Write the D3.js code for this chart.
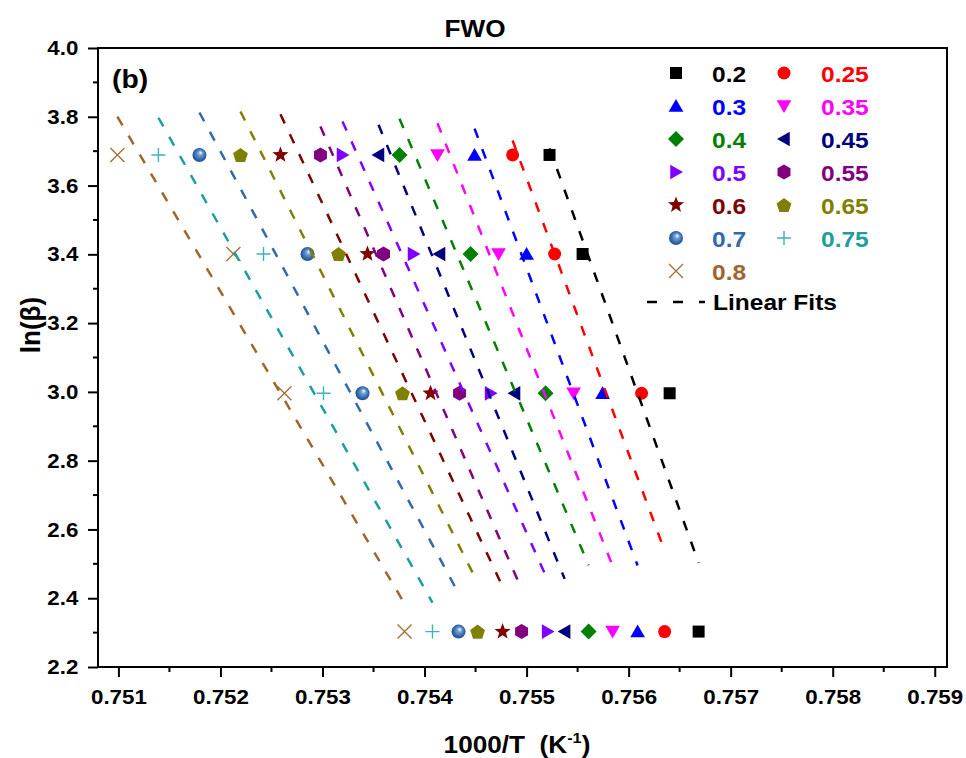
<!DOCTYPE html>
<html>
<head>
<meta charset="utf-8">
<script src="https://cdn.jsdelivr.net/npm/d3@7"></script>
<style>
  html, body { margin: 0; padding: 0; background: #fff; }
  svg { display: block; font-family: "Liberation Sans", Arial, sans-serif; font-weight: bold; }
</style>
</head>
<body>
<svg id="chart" width="966" height="758"></svg>
<script>
// Conversion degrees (alpha) shown in the legend
const conversions = ["0.2", "0.25", "0.3", "0.35", "0.4", "0.45", "0.5", "0.55", "0.6", "0.65", "0.7", "0.75", "0.8"];

// ln(heating rate) for beta = 40, 30, 20, 10 K/min
const lnBeta = [3.689, 3.401, 2.996, 2.303];

// 1000/T (K^-1) for each conversion, one array per heating rate
const invT_beta40 = [0.755225, 0.754863, 0.754490, 0.754127, 0.753755, 0.753549, 0.753196, 0.752980, 0.752588, 0.752196, 0.751794, 0.751392, 0.750990];
const invT_beta30 = [0.755549, 0.755275, 0.755000, 0.754725, 0.754451, 0.754147, 0.753892, 0.753598, 0.753441, 0.753157, 0.752853, 0.752422, 0.752127];
const invT_beta20 = [0.756402, 0.756127, 0.755745, 0.755461, 0.755186, 0.754882, 0.754647, 0.754343, 0.754059, 0.753784, 0.753392, 0.753010, 0.752627];
const invT_beta10 = [0.756686, 0.756353, 0.756088, 0.755843, 0.755608, 0.755373, 0.755206, 0.754951, 0.754765, 0.754520, 0.754333, 0.754078, 0.753804];

// Axis ticks
const xTicks = [0.751, 0.752, 0.753, 0.754, 0.755, 0.756, 0.757, 0.758, 0.759];
const yTicks = [2.2, 2.4, 2.6, 2.8, 3.0, 3.2, 3.4, 3.6, 3.8, 4.0];

// Series styling
const seriesColors = ["#000000", "#FF0000", "#0000FF", "#FF00FF", "#008000", "#000080", "#8000FF", "#800080", "#800000", "#808000", "#2F6AAE", "#1E9E9E", "#A0652A"];
const markerColors = ["#000000", "#FF0000", "#0000FF", "#FF00FF", "#008000", "#000080", "#8000FF", "#800080", "#800000", "#808000", "#2F6AAE", "#3DB3B3", "#A8703A"];
const seriesShapes = ["square", "circle", "triUp", "triDown", "diamond", "triLeft", "triRight", "hexagon", "star", "pentagon", "sphere", "plus", "cross"];

// Slight horizontal widening of all lettering
const SX = 1.09;

const svg = d3.select("#chart");
const W = 966, H = 758;
const margin = { left: 98, right: 19, top: 48, bottom: 91 };
const plotW = W - margin.left - margin.right;
const plotH = H - margin.top - margin.bottom;

const x = d3.scaleLinear().domain([0.7508, 0.75912]).range([margin.left, margin.left + plotW]);
const y = d3.scaleLinear().domain([2.2, 4.0]).range([margin.top + plotH, margin.top]);

// Sphere gradient
const defs = svg.append("defs");
const grad = defs.append("radialGradient").attr("id", "sphereGrad")
  .attr("cx", "50%").attr("cy", "50%").attr("r", "55%").attr("fx", "60%").attr("fy", "32%");
grad.append("stop").attr("offset", "0%").attr("stop-color", "#ffffff");
grad.append("stop").attr("offset", "30%").attr("stop-color", "#6f9fd6");
grad.append("stop").attr("offset", "75%").attr("stop-color", "#2c61a3");
grad.append("stop").attr("offset", "100%").attr("stop-color", "#1b4a85");

function polygon(n, r, rot) {
  const pts = [];
  for (let i = 0; i < n; i++) {
    const a = rot + i * 2 * Math.PI / n;
    pts.push([r * Math.cos(a), r * Math.sin(a)]);
  }
  return "M" + pts.map(p => p.join(",")).join("L") + "Z";
}
function starPath(ro, ri) {
  const pts = [];
  for (let i = 0; i < 10; i++) {
    const r = i % 2 === 0 ? ro : ri;
    const a = -Math.PI / 2 + i * Math.PI / 5;
    pts.push([r * Math.cos(a), r * Math.sin(a)]);
  }
  return "M" + pts.map(p => p.join(",")).join("L") + "Z";
}

function drawMarker(g, shape, color, cx, cy) {
  const m = g.append("g").attr("transform", `translate(${cx},${cy})`);
  switch (shape) {
    case "square":
      m.append("rect").attr("x", -6).attr("y", -6).attr("width", 12).attr("height", 12).attr("fill", color);
      break;
    case "circle":
      m.append("circle").attr("r", 6.5).attr("fill", color);
      break;
    case "triUp":
      m.append("path").attr("d", polygon(3, 8.5, -Math.PI / 2)).attr("transform", "translate(0,1.5)").attr("fill", color);
      break;
    case "triDown":
      m.append("path").attr("d", polygon(3, 8.5, Math.PI / 2)).attr("transform", "translate(0,-1.5)").attr("fill", color);
      break;
    case "triLeft":
      m.append("path").attr("d", polygon(3, 8.5, Math.PI)).attr("transform", "translate(1.5,0)").attr("fill", color);
      break;
    case "triRight":
      m.append("path").attr("d", polygon(3, 8.5, 0)).attr("transform", "translate(-1.5,0)").attr("fill", color);
      break;
    case "diamond":
      m.append("path").attr("d", polygon(4, 8, 0)).attr("fill", color);
      break;
    case "hexagon":
      m.append("path").attr("d", polygon(6, 7.5, -Math.PI / 2)).attr("fill", color);
      break;
    case "star":
      m.append("path").attr("d", starPath(8.5, 3.6)).attr("fill", color);
      break;
    case "pentagon":
      m.append("path").attr("d", polygon(5, 7.8, -Math.PI / 2)).attr("transform", "translate(0,0.8)").attr("fill", color);
      break;
    case "sphere":
      m.append("circle").attr("r", 7).attr("fill", "url(#sphereGrad)");
      break;
    case "plus":
      m.append("path").attr("d", "M-7,0L7,0M0,-7L0,7").attr("stroke", color).attr("stroke-width", 1.4).attr("fill", "none");
      break;
    case "cross":
      m.append("path").attr("d", "M-7,-7L7,7M-7,7L7,-7").attr("stroke", color).attr("stroke-width", 1.4).attr("fill", "none");
      break;
  }
}

// Text placed at (tx, ty) with the common horizontal widening
function label(parent, tx, ty, size, anchor, extra) {
  const g = parent.append("g").attr("transform", `translate(${tx},${ty}) scale(${SX},1)${extra || ""}`);
  return g.append("text").attr("font-size", size).attr("text-anchor", anchor || "start");
}

// Title and panel tag
label(svg, 475, 37, 24, "middle").text("FWO");
label(svg, 112, 88, 26, "start").text("(b)");

// Axes
const xAxis = d3.axisBottom(x).tickValues(xTicks).tickFormat(d3.format(".3f")).tickSize(10).tickPadding(12);
const yAxis = d3.axisLeft(y).tickValues(yTicks).tickFormat(d3.format(".1f")).tickSize(10).tickPadding(8);

const gx = svg.append("g").attr("transform", `translate(0,${margin.top + plotH})`).call(xAxis);
const gy = svg.append("g").attr("transform", `translate(${margin.left},0)`).call(yAxis);
[gx, gy].forEach(g => {
  g.select(".domain").remove();
  g.selectAll(".tick line").attr("stroke", "#000").attr("stroke-width", 2);
  g.selectAll(".tick text").attr("fill", "#000").attr("font-size", 20.5)
    .attr("font-family", "'Liberation Sans', Arial, sans-serif").attr("font-weight", "bold")
    .attr("transform", `scale(${SX},1)`);
});

// Minor ticks
const xMinor = xTicks.slice(0, -1).map(v => v + 0.0005);
svg.append("g").selectAll("line").data(xMinor).join("line")
  .attr("x1", d => x(d)).attr("x2", d => x(d))
  .attr("y1", margin.top + plotH).attr("y2", margin.top + plotH + 5)
  .attr("stroke", "#000").attr("stroke-width", 2);
const yMinor = yTicks.slice(0, -1).map(v => v + 0.1);
svg.append("g").selectAll("line").data(yMinor).join("line")
  .attr("y1", d => y(d)).attr("y2", d => y(d))
  .attr("x1", margin.left).attr("x2", margin.left - 5)
  .attr("stroke", "#000").attr("stroke-width", 2);

// Frame
svg.append("rect").attr("x", margin.left).attr("y", margin.top)
  .attr("width", plotW).attr("height", plotH)
  .attr("fill", "none").attr("stroke", "#000").attr("stroke-width", 2);

// Axis titles
label(svg, 40, 325, 26, "middle", " rotate(-90)").text("ln(β)");
const xt = label(svg, 517, 753, 24, "middle");
xt.append("tspan").text("1000/T\u00a0\u00a0(K");
xt.append("tspan").attr("font-size", 15).attr("dy", -10).text("-1");
xt.append("tspan").attr("dy", 10).text(")");

// Series data, grouped by conversion
const byRate = [invT_beta40, invT_beta30, invT_beta20, invT_beta10];
const series = conversions.map((c, i) => ({
  label: c,
  color: seriesColors[i],
  markerColor: markerColors[i],
  shape: seriesShapes[i],
  points: byRate.map((arr, k) => ({ x: arr[i], y: lnBeta[k] }))
}));

// Markers
const gMarks = svg.append("g");
series.forEach(s => {
  s.points.forEach(p => drawMarker(gMarks, s.shape, s.markerColor, x(p.x), y(p.y)));
});

// Least-squares linear fits, drawn over each series' x range
const gFits = svg.append("g");
series.forEach(s => {
  const xs = s.points.map(p => p.x), ys = s.points.map(p => p.y);
  const mx = d3.mean(xs), my = d3.mean(ys);
  const sxy = d3.sum(xs.map((v, i) => (v - mx) * (ys[i] - my)));
  const sxx = d3.sum(xs.map(v => (v - mx) * (v - mx)));
  const b = sxy / sxx, a = my - b * mx;
  const [x0, x1] = d3.extent(xs);
  gFits.append("line")
    .attr("x1", x(x0)).attr("y1", y(a + b * x0))
    .attr("x2", x(x1)).attr("y2", y(a + b * x1))
    .attr("stroke", s.color).attr("stroke-width", 2.5)
    .attr("stroke-dasharray", "10,12");
});

// Legend
const legend = svg.append("g");
const legCols = [{ mx: 676, tx: 712 }, { mx: 784, tx: 821 }];
const legRowY = d => 73 + d * 33;
series.forEach((s, i) => {
  const col = legCols[i % 2];
  const row = Math.floor(i / 2);
  const cy = legRowY(row);
  drawMarker(legend, s.shape, s.markerColor, col.mx, cy);
  label(legend, col.tx, cy + 8.5, 22.5, "start").attr("fill", s.color).text(s.label);
});
const fitY = 302;
legend.append("line").attr("x1", 647).attr("x2", 705).attr("y1", fitY).attr("y2", fitY)
  .attr("stroke", "#000").attr("stroke-width", 2.5).attr("stroke-dasharray", "10,16");
label(legend, 713, fitY + 8, 22.5, "start").text("Linear Fits");
</script>
</body>
</html>
